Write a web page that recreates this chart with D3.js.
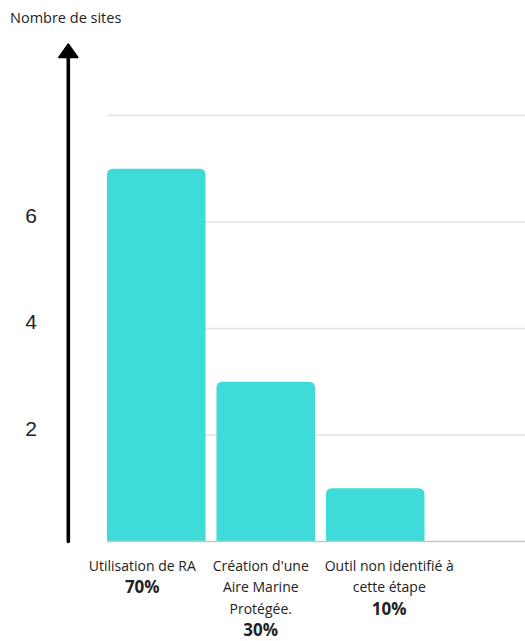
<!DOCTYPE html>
<html>
<head>
<meta charset="utf-8">
<script src="https://cdn.jsdelivr.net/npm/d3@7"></script>
<style>
  html, body { margin: 0; padding: 0; background: #ffffff; }
  svg { display: block; }
  text { font-family: "Open Sans", "Lato", sans-serif; fill: #222; }
</style>
</head>
<body>
<svg id="chart" width="525" height="641"></svg>
<script>
// ---- data ----
const categories = ["Utilisation de RA", "Création d'une Aire Marine Protégée.", "Outil non identifié à cette étape"];
const labelLines = [["Utilisation de RA"], ["Création d'une", "Aire Marine", "Protégée."], ["Outil non identifié à", "cette étape"]];
const values = [7, 3, 1];
const percents = ["70%", "30%", "10%"];
const tickValues = [2, 4, 6];
const gridValues = [2, 4, 6, 8];
const yTitle = "Nombre de sites";

// ---- layout ----
const W = 525, H = 641;
const svg = d3.select("#chart");
const x = d3.scaleBand().domain(categories).range([107, 424.5]).paddingInner(0.1).paddingOuter(0);
const y = d3.scaleLinear().domain([0, 8]).range([541.5, 115.5]);
const labelShift = [-14, -5, 14];

// gridlines
svg.append("g").selectAll("line").data(gridValues).join("line")
  .attr("x1", 107).attr("x2", W)
  .attr("y1", d => y(d)).attr("y2", d => y(d))
  .attr("stroke", "#e2e2e2").attr("stroke-width", 1.3);

// bars with rounded top corners
const r = 6;
svg.append("g").selectAll("path").data(values).join("path")
  .attr("d", (d, i) => {
    const x0 = x(categories[i]), w = x.bandwidth();
    const yt = y(d), yb = y(0);
    return `M${x0},${yb} L${x0},${yt + r} Q${x0},${yt} ${x0 + r},${yt} L${x0 + w - r},${yt} Q${x0 + w},${yt} ${x0 + w},${yt + r} L${x0 + w},${yb} Z`;
  })
  .attr("fill", "#3fdbd8");

// baseline
svg.append("line")
  .attr("x1", 107).attr("x2", W)
  .attr("y1", y(0)).attr("y2", y(0))
  .attr("stroke", "#c8c8c8").attr("stroke-width", 1.5);

// y axis arrow
const ax = 68.3;
svg.append("line")
  .attr("x1", ax).attr("x2", ax)
  .attr("y1", y(0)).attr("y2", 54)
  .attr("stroke", "#000").attr("stroke-width", 3.6).attr("stroke-linecap", "round");
svg.append("path")
  .attr("d", `M${ax},44 L${ax + 9.5},57.5 L${ax - 9.5},57.5 Z`)
  .attr("fill", "#000").attr("stroke", "#000").attr("stroke-width", 1.5).attr("stroke-linejoin", "round");

// tick labels
svg.append("g").selectAll("text").data(tickValues).join("text")
  .attr("x", 31).attr("y", d => y(d) - 7)
  .attr("text-anchor", "middle").attr("dominant-baseline", "central")
  .style("font-family", "'Liberation Sans', Arial, sans-serif")
  .style("font-size", "21px")
  .text(d => d);

// y title
svg.append("text")
  .attr("x", 10).attr("y", 23)
  .style("font-size", "14.5px")
  .text(yTitle);

// category labels
const lineH = 21.5;
categories.forEach((c, i) => {
  const cx = x(c) + x.bandwidth() / 2 + labelShift[i];
  const lines = labelLines[i];
  const g = svg.append("g");
  lines.forEach((ln, j) => {
    g.append("text")
      .attr("x", cx).attr("y", 565 + j * lineH)
      .attr("text-anchor", "middle").attr("dominant-baseline", "central")
      .style("font-size", "14px")
      .text(ln);
  });
  g.append("text")
    .attr("x", cx).attr("y", 565 + lines.length * lineH)
    .attr("text-anchor", "middle").attr("dominant-baseline", "central")
    .style("font-size", "17px").style("font-weight", "700")
    .text(percents[i]);
});
</script>
</body>
</html>
